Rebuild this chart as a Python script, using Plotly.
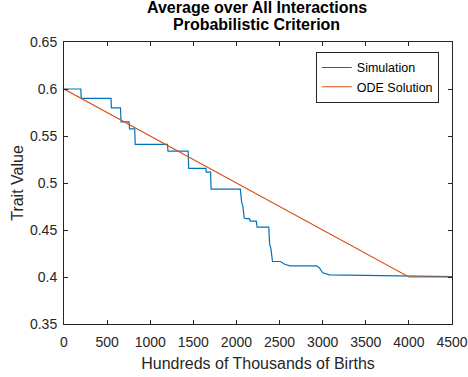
import plotly.graph_objects as go

sim_x = [0, 195, 200, 545, 550, 655, 662, 755, 760, 820, 826, 1200, 1206, 1440, 1446,
         1645, 1650, 1700, 1706, 2045, 2060, 2075, 2090, 2100, 2150, 2160, 2230, 2240,
         2375, 2385, 2400, 2418, 2510, 2560, 2620, 2930, 2960, 3000, 3080, 4500]
sim_y = [0.6, 0.6, 0.59, 0.59, 0.58, 0.58, 0.565, 0.565, 0.5575, 0.5575, 0.541, 0.541,
         0.534, 0.534, 0.5155, 0.5155, 0.5115, 0.5115, 0.4935, 0.4935, 0.48, 0.475,
         0.463, 0.462, 0.462, 0.4595, 0.4595, 0.453, 0.453, 0.435, 0.43, 0.4165, 0.4165,
         0.4135, 0.4118, 0.4118, 0.410, 0.4045, 0.4022, 0.4005]

ode_x = [0, 4000, 4500]
ode_y = [0.6, 0.4, 0.4]

x_ticks = [0, 500, 1000, 1500, 2000, 2500, 3000, 3500, 4000, 4500]
y_ticks = [0.35, 0.4, 0.45, 0.5, 0.55, 0.6, 0.65]
y_labels = ["0.35", "0.4", "0.45", "0.5", "0.55", "0.6", "0.65"]

FONT = "Liberation Sans, Arial"

fig = go.Figure()
fig.add_trace(go.Scatter(x=sim_x, y=sim_y, mode="lines", name="Simulation",
                         line=dict(color="#0072BD", width=1.2)))
fig.add_trace(go.Scatter(x=ode_x, y=ode_y, mode="lines", name="ODE Solution",
                         line=dict(color="#D95319", width=1.2)))

axis_common = dict(showline=True, linecolor="#262626", linewidth=1, mirror="ticks",
                   ticks="inside", ticklen=4, tickcolor="#262626", showgrid=False,
                   zeroline=False, automargin=False,
                   tickfont=dict(family=FONT, size=14, color="#262626"))

fig.update_layout(
    width=468, height=377,
    margin=dict(l=64, r=16, t=42, b=53),
    paper_bgcolor="white", plot_bgcolor="white",
    xaxis=dict(range=[0, 4500], tickvals=x_ticks, ticktext=[str(v) for v in x_ticks],
               ticklabelstandoff=5,
               title=dict(text="Hundreds of Thousands of Births", standoff=9,
                          font=dict(family=FONT, size=16, color="#262626")),
               **axis_common),
    yaxis=dict(range=[0.35, 0.65], tickvals=y_ticks, ticktext=y_labels,
               ticklabelstandoff=3,
               title=dict(text="Trait Value", standoff=2,
                          font=dict(family=FONT, size=16, color="#262626")),
               **axis_common),
    legend=dict(x=0.966, y=0.965, xanchor="right", yanchor="top",
                bgcolor="white", bordercolor="#262626", borderwidth=1,
                font=dict(family=FONT, size=12.5, color="black"),
                itemwidth=30, tracegroupgap=0),
    showlegend=True,
    annotations=[
        dict(text="<b>Average over All Interactions</b>", xref="paper", yref="paper",
             x=0.497, y=1.0, yshift=35, xanchor="center", yanchor="middle", showarrow=False,
             font=dict(family=FONT, size=16, color="black")),
        dict(text="<b>Probabilistic Criterion</b>", xref="paper", yref="paper",
             x=0.497, y=1.0, yshift=18, xanchor="center", yanchor="middle", showarrow=False,
             font=dict(family=FONT, size=16, color="black")),
    ],
)

fig.write_html("out.html")
